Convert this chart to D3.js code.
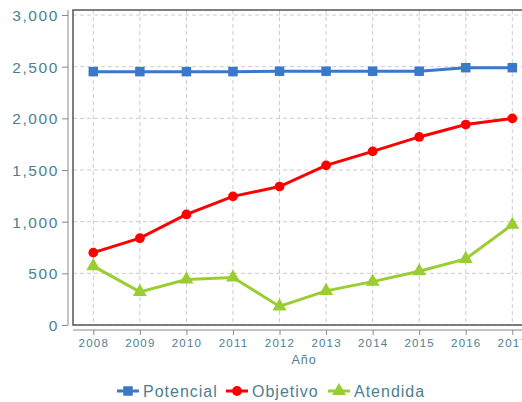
<!DOCTYPE html>
<html><head><meta charset="utf-8">
<script src="https://cdn.jsdelivr.net/npm/d3@7"></script>
<style>body{margin:0;background:#fff}svg{display:block;font-family:"Liberation Sans",Arial,sans-serif}</style>
</head><body><svg id="c" width="522" height="402"></svg>
<script>
const years = [2008,2009,2010,2011,2012,2013,2014,2015,2016,2017];
const potencial = [2452,2452,2452,2452,2456,2456,2456,2456,2490,2490];
const objetivo = [700,840,1070,1245,1340,1545,1680,1820,1940,2000];
const atendida = [570,320,440,460,180,330,420,520,640,970];
const yTicks = [0,500,1000,1500,2000,2500,3000];
const seriesNames = ["Potencial","Objetivo","Atendida"];
const colors = ["#3a78c8","#ff0000","#9acd32"];
const xTitle = "Año";

const svg = d3.select("#c");
const txt = "#4d7f8f";
const L = 73, T = 10, B = 325;
const x = d3.scaleLinear().domain([2008,2017]).range([93.3,512.3]);
const y = d3.scaleLinear().domain([0,3000]).range([B,15]);
const R = 540;

// grid
const g = svg.append("g");
g.selectAll(".gx").data(years).join("line")
  .attr("x1",d=>x(d)).attr("x2",d=>x(d)).attr("y1",T).attr("y2",B)
  .attr("stroke","#cccccc").attr("stroke-dasharray","4,3");
g.selectAll(".gy").data(yTicks).join("line")
  .attr("x1",L).attr("x2",R).attr("y1",d=>y(d)).attr("y2",d=>y(d))
  .attr("stroke","#cccccc").attr("stroke-dasharray","4,3");

// frame
svg.append("path").attr("d",`M${R},${T}H${L}V${B}H${R}`).attr("fill","none").attr("stroke","#555").attr("stroke-width",1.5);

// y axis
const ya = svg.append("g").attr("transform","translate(68,0)")
  .call(d3.axisLeft(y).tickValues(yTicks).tickFormat(d3.format(",")).tickSize(6).tickSizeOuter(0));
ya.select(".domain").attr("stroke","#888").attr("d",`M0,${T}V${B}`);
ya.selectAll(".tick line").attr("stroke","#888");
ya.selectAll("text").attr("fill",txt).attr("font-size",15.5).attr("letter-spacing","1.6px").attr("x",-9).attr("dy","0.36em");

// x axis
const xa = svg.append("g").attr("transform","translate(0,330)")
  .call(d3.axisBottom(x).tickValues(years).tickFormat(d3.format("d")).tickSize(5).tickSizeOuter(0));
xa.select(".domain").attr("stroke","#888").attr("d",`M${L},0H${R}`);
xa.selectAll(".tick line").attr("stroke","#888");
xa.selectAll("text").attr("fill",txt).attr("font-size",11.5).attr("letter-spacing","1.2px").attr("y",9);
svg.append("text").attr("x",304).attr("y",364).attr("text-anchor","middle").attr("fill",txt)
  .attr("font-size",12.5).attr("letter-spacing","1px").text(xTitle);

// series
const data = [potencial,objetivo,atendida];
const line = d3.line().x((d,i)=>x(years[i])).y(d=>y(d));
const sym = [d3.symbolSquare,d3.symbolCircle,d3.symbolTriangle];
const symSize = [90,75,85];
data.forEach((vals,k)=>{
  svg.append("path").datum(vals).attr("d",line).attr("fill","none").attr("stroke",colors[k]).attr("stroke-width",3);
  svg.selectAll(".m"+k).data(vals).join("path")
    .attr("transform",(d,i)=>`translate(${x(years[i])},${y(d)})`)
    .attr("d",d3.symbol(sym[k],symSize[k])).attr("fill",colors[k]);
});

// legend
const lg = svg.append("g");
const lx = [117,226,328];
seriesNames.forEach((n,k)=>{
  lg.append("line").attr("x1",lx[k]).attr("x2",lx[k]+22).attr("y1",391).attr("y2",391).attr("stroke",colors[k]).attr("stroke-width",3);
  lg.append("path").attr("transform",`translate(${lx[k]+11},391)`).attr("d",d3.symbol(sym[k],symSize[k])).attr("fill",colors[k]);
  lg.append("text").attr("x",lx[k]+26).attr("y",397).attr("fill",txt).attr("font-size",16).attr("letter-spacing","1px").text(n);
});
</script></body></html>
